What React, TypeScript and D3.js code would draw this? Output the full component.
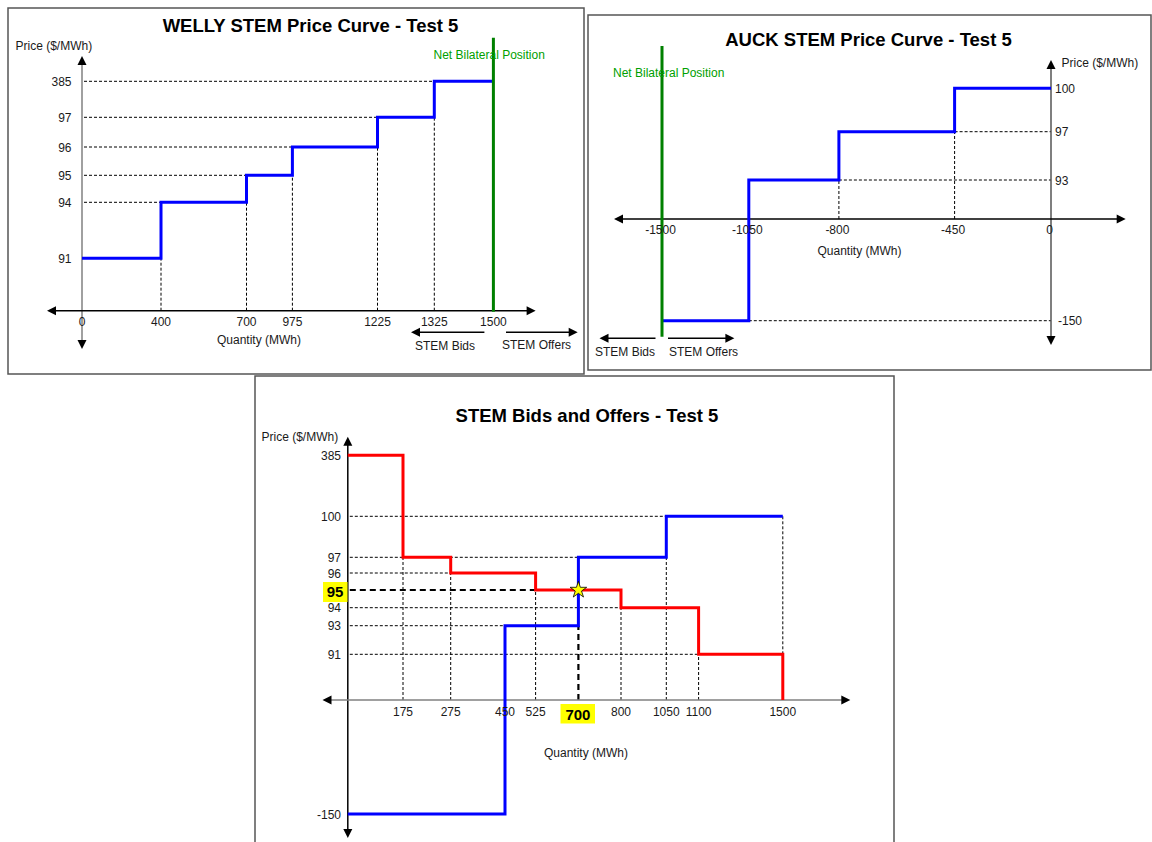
import React from "react";
import * as d3 from "d3";

// ---------- DATA ----------
// WELLY STEM price curve (bids)
const wellyQty = [0, 400, 700, 975, 1225, 1325, 1500];
const wellyPrice = [91, 94, 95, 96, 97, 385, 385];
const wellyPriceTicks = [385, 97, 96, 95, 94, 91];
const wellyQtyTicks = [0, 400, 700, 975, 1225, 1325, 1500];
const wellyNetBilateral = 1500;

// AUCK STEM price curve (offers)
const auckQty = [-1500, -1050, -800, -450, 0];
const auckPrice = [-150, 93, 97, 100, 100];
const auckPriceTicks = [100, 97, 93, -150];
const auckQtyTicks = [-1500, -1050, -800, -450, 0];
const auckNetBilateral = -1500;

// Combined STEM bids and offers
const bidQty = [0, 175, 275, 525, 800, 1100, 1500];
const bidPrice = [385, 97, 96, 95, 94, 91, 0];
const offerQty = [0, 450, 700, 1050, 1500];
const offerPrice = [-150, 93, 97, 100, 100];
const combPriceTicks = [385, 100, 97, 96, 94, 93, 91, -150];
const combQtyTicks = [175, 275, 450, 525, 800, 1050, 1100, 1500];
const clearQty = 700;
const clearPrice = 95;
// dashed guide lines: horizontal [price, up to quantity]
const combHGuides: [number, number][] = [
  [100, 1050], [97, 700], [96, 275], [94, 800], [93, 450], [91, 1100],
];
// vertical [quantity, from price, to price]
const combVGuides: [number, number, number][] = [
  [175, 0, 97], [275, 0, 96], [525, 0, 95], [800, 0, 94], [1050, 0, 97], [1100, 0, 94], [1500, 91, 100],
];

// ---------- STYLE ----------
const FONT = "Arial, 'Liberation Sans', sans-serif";
const BLUE = "#0000FF";
const RED = "#FF0000";
const GREEN = "#008000";
const GREEN_TXT = "#00A000";
const DASH = "3,2";
const FS = 12;
const TITLE_FS = 18.5;

// schematic (piecewise) scales
const xW = d3.scaleLinear().domain(wellyQtyTicks).range([82, 161, 246.5, 292.4, 377.5, 434.3, 493.4]);
const yW = d3.scaleLinear().domain([0, 91, 94, 95, 96, 97, 385]).range([310.7, 258.3, 202.3, 175.3, 147, 117.3, 81.3]);

const xA = d3.scaleLinear().domain(auckQtyTicks).range([662, 748.8, 838.9, 954.6, 1051]);
const yA = d3.scaleLinear().domain([-150, 0, 93, 97, 100]).range([320.7, 219, 180, 131.7, 88.3]);

const xC = d3.scaleLinear().domain([0, 175, 275, 450, 525, 700, 800, 1050, 1100, 1500])
  .range([347.8, 403, 450.7, 505, 535.6, 578.4, 621, 666.3, 698.6, 782.8]);
const yC = d3.scaleLinear().domain([-150, 0, 91, 93, 94, 95, 96, 97, 100, 385])
  .range([814, 700, 654.3, 625.7, 607.7, 590, 573, 557.3, 516.3, 455.3]);

function stepPath(xs: any, ys: any, qty: number[], price: number[]) {
  return d3.line<number>()
    .x((i) => xs(qty[i]))
    .y((i) => ys(price[i]))
    .curve(d3.curveStepAfter)(qty.map((_, i) => i)) || "";
}

function arrowHead(x: number, y: number, dir: "l" | "r" | "u" | "d", len = 9, half = 4.5) {
  let pts: [number, number][] = [];
  if (dir === "l") pts = [[x, y], [x + len, y - half], [x + len, y + half]];
  if (dir === "r") pts = [[x, y], [x - len, y - half], [x - len, y + half]];
  if (dir === "u") pts = [[x, y], [x - half, y + len], [x + half, y + len]];
  if (dir === "d") pts = [[x, y], [x - half, y - len], [x + half, y - len]];
  return <polygon points={pts.map((p) => p.join(",")).join(" ")} fill="#000" />;
}

function HAxis({ y, x1, x2, color }: { y: number; x1: number; x2: number; color: string }) {
  return (
    <g>
      <line x1={x1 + 6} x2={x2 - 6} y1={y} y2={y} stroke={color} strokeWidth={1.5} />
      {arrowHead(x1, y, "l")}
      {arrowHead(x2, y, "r")}
    </g>
  );
}
function VAxis({ x, y1, y2, color }: { x: number; y1: number; y2: number; color: string }) {
  return (
    <g>
      <line x1={x} x2={x} y1={y1 + 6} y2={y2 - 6} stroke={color} strokeWidth={1.5} />
      {arrowHead(x, y1, "u")}
      {arrowHead(x, y2, "d")}
    </g>
  );
}

const txt = { fontFamily: FONT, fontSize: FS, fill: "#1a1a1a" } as const;

function Welly() {
  const guides = wellyQty.slice(1, -1).map((q, k) => {
    const i = k + 1;
    return { q, p: wellyPrice[i], prev: wellyPrice[i - 1] };
  });
  return (
    <g>
      <rect x={8} y={8} width={576} height={366} fill="#fff" stroke="#555" strokeWidth={1.5} />
      <text x={310.5} y={32} textAnchor="middle" fontFamily={FONT} fontSize={TITLE_FS} fontWeight="bold">
        WELLY STEM Price Curve - Test 5
      </text>
      <text x={15.5} y={50} {...txt}>Price ($/MWh)</text>
      {guides.map((g) => (
        <g key={g.q}>
          <line x1={xW(0) + 2} x2={xW(g.q)} y1={yW(g.p)} y2={yW(g.p)} stroke="#000" strokeWidth={1} strokeDasharray={DASH} />
          <line x1={xW(g.q)} x2={xW(g.q)} y1={yW(0)} y2={yW(g.prev)} stroke="#000" strokeWidth={1} strokeDasharray={DASH} />
        </g>
      ))}
      <VAxis x={xW(0)} y1={56} y2={349} color="#808080" />
      <HAxis y={yW(0)} x1={47} x2={535.6} color="#000" />
      <path d={stepPath(xW, yW, wellyQty, wellyPrice)} fill="none" stroke={BLUE} strokeWidth={3} />
      <line x1={xW(wellyNetBilateral)} x2={xW(wellyNetBilateral)} y1={37.7} y2={311.7} stroke={GREEN} strokeWidth={3} />
      <text x={433.5} y={59} {...txt} fill={GREEN_TXT}>Net Bilateral Position</text>
      {wellyPriceTicks.map((p) => (
        <text key={p} x={71.5} y={yW(p) + 4.5} textAnchor="end" {...txt}>{p}</text>
      ))}
      {wellyQtyTicks.map((q) => (
        <text key={q} x={xW(q)} y={325.5} textAnchor="middle" {...txt}>{q}</text>
      ))}
      <text x={259} y={344} textAnchor="middle" {...txt}>Quantity (MWh)</text>
      <line x1={418} x2={484.4} y1={332.3} y2={332.3} stroke="#000" strokeWidth={1.5} />
      {arrowHead(411, 332.3, "l")}
      <line x1={506} x2={571} y1={332.3} y2={332.3} stroke="#000" strokeWidth={1.5} />
      {arrowHead(577.7, 332.3, "r")}
      <text x={415} y={349.5} {...txt}>STEM Bids</text>
      <text x={502} y={349} {...txt}>STEM Offers</text>
    </g>
  );
}

function Auck() {
  const guides = auckQty.slice(1, -1).map((q, k) => {
    const i = k + 1;
    return { q, prev: auckPrice[i - 1] };
  });
  return (
    <g>
      <rect x={588} y={15} width={563} height={355} fill="#fff" stroke="#555" strokeWidth={1.5} />
      <text x={868.5} y={45.5} textAnchor="middle" fontFamily={FONT} fontSize={TITLE_FS} fontWeight="bold">
        AUCK STEM Price Curve - Test 5
      </text>
      {guides.map((g) => (
        <g key={g.q}>
          <line x1={xA(g.q)} x2={xA(0)} y1={yA(g.prev)} y2={yA(g.prev)} stroke="#000" strokeWidth={1} strokeDasharray={DASH} />
          <line x1={xA(g.q)} x2={xA(g.q)} y1={yA(0)} y2={yA(g.prev)} stroke="#000" strokeWidth={1} strokeDasharray={DASH} />
        </g>
      ))}
      <VAxis x={xA(0)} y1={60} y2={345} color="#555" />
      <HAxis y={yA(0)} x1={614} x2={1125.7} color="#000" />
      <path d={stepPath(xA, yA, auckQty, auckPrice)} fill="none" stroke={BLUE} strokeWidth={3} />
      <line x1={xA(auckNetBilateral)} x2={xA(auckNetBilateral)} y1={46} y2={336.7} stroke={GREEN} strokeWidth={3} />
      <text x={613} y={76.7} {...txt} fill={GREEN_TXT}>Net Bilateral Position</text>
      <text x={1061.5} y={66.5} {...txt}>Price ($/MWh)</text>
      {auckPriceTicks.map((p) => (
        <text key={p} x={p < 0 ? 1058 : 1055} y={yA(p) + 4.5} {...txt}>{p}</text>
      ))}
      {auckQtyTicks.map((q) => (
        <text key={q} x={xA(q) - 1.5} y={233.5} textAnchor="middle" {...txt}>{q}</text>
      ))}
      <text x={859.5} y={255} textAnchor="middle" {...txt}>Quantity (MWh)</text>
      <line x1={606} x2={655.5} y1={338.3} y2={338.3} stroke="#000" strokeWidth={1.5} />
      {arrowHead(599.5, 338.3, "l")}
      <line x1={668} x2={728} y1={338.3} y2={338.3} stroke="#000" strokeWidth={1.5} />
      {arrowHead(734.4, 338.3, "r")}
      <text x={595} y={356} {...txt}>STEM Bids</text>
      <text x={669} y={356} {...txt}>STEM Offers</text>
    </g>
  );
}

function Combined() {
  const star = d3.symbol().type(d3.symbolStar).size(85)() || "";
  return (
    <g>
      <rect x={255} y={376} width={639} height={480} fill="#fff" stroke="#555" strokeWidth={1.5} />
      <text x={587} y={421.5} textAnchor="middle" fontFamily={FONT} fontSize={TITLE_FS} fontWeight="bold">
        STEM Bids and Offers - Test 5
      </text>
      <text x={261.5} y={440.7} {...txt}>Price ($/MWh)</text>
      {combHGuides.map(([p, q]) => (
        <line key={"h" + p} x1={xC(0) + 2} x2={xC(q)} y1={yC(p)} y2={yC(p)} stroke="#000" strokeWidth={1} strokeDasharray={DASH} />
      ))}
      {combVGuides.map(([q, p0, p1]) => (
        <line key={"v" + q} x1={xC(q)} x2={xC(q)} y1={yC(p0)} y2={yC(p1)} stroke="#000" strokeWidth={1} strokeDasharray={DASH} />
      ))}
      <line x1={xC(0) + 2} x2={xC(525)} y1={yC(clearPrice)} y2={yC(clearPrice)} stroke="#000" strokeWidth={2.2} strokeDasharray="6,4" />
      <line x1={xC(clearQty)} x2={xC(clearQty)} y1={yC(0)} y2={yC(93)} stroke="#000" strokeWidth={2.2} strokeDasharray="6,4" />
      <VAxis x={xC(0)} y1={436.7} y2={838} color="#000" />
      <HAxis y={yC(0)} x1={322.5} x2={850.3} color="#808080" />
      <path d={stepPath(xC, yC, offerQty, offerPrice)} fill="none" stroke={BLUE} strokeWidth={3} />
      <path d={stepPath(xC, yC, bidQty, bidPrice)} fill="none" stroke={RED} strokeWidth={3} />
      <path d={star} transform={`translate(${xC(clearQty)},${yC(clearPrice)})`} fill="#FFFF00" stroke="#000" strokeWidth={0.8} />
      {combPriceTicks.map((p) => (
        <text key={p} x={341} y={yC(p) + 4.5} textAnchor="end" {...txt}>{p}</text>
      ))}
      <rect x={323} y={582} width={24.5} height={20} fill="#FFFF00" />
      <text x={335} y={yC(clearPrice) + 6.5} textAnchor="middle" fontFamily={FONT} fontSize={15} fontWeight="bold">{clearPrice}</text>
      {combQtyTicks.map((q) => (
        <text key={q} x={xC(q)} y={715.5} textAnchor="middle" {...txt}>{q}</text>
      ))}
      <rect x={560.5} y={704} width={34.5} height={19.5} fill="#FFFF00" />
      <text x={xC(clearQty) - 0.5} y={719.5} textAnchor="middle" fontFamily={FONT} fontSize={15} fontWeight="bold">{clearQty}</text>
      <text x={586} y={756.5} textAnchor="middle" {...txt}>Quantity (MWh)</text>
    </g>
  );
}

export default function App() {
  return (
    <svg width={1152} height={842} style={{ position: "absolute", left: 0, top: 0, background: "#fff" }}>
      <rect x={0} y={0} width={1152} height={842} fill="#fff" />
      <Welly />
      <Auck />
      <Combined />
    </svg>
  );
}
